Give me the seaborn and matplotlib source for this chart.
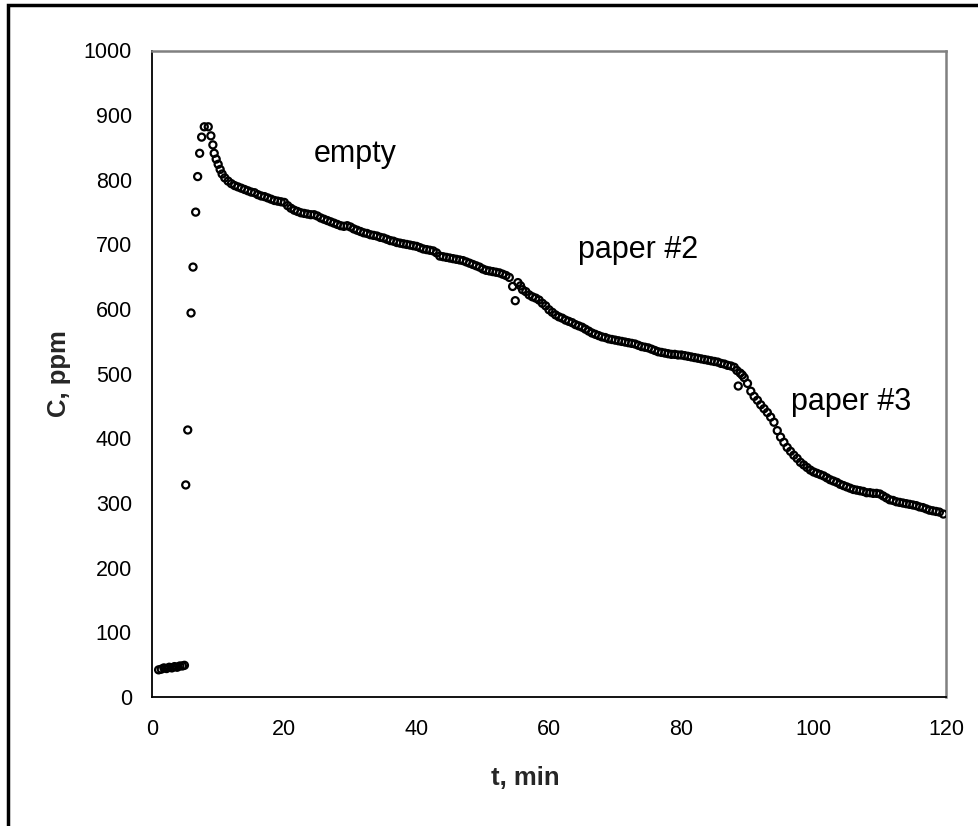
import matplotlib
matplotlib.use("Agg")
import matplotlib.pyplot as plt
from matplotlib.patches import Rectangle
import pandas as pd
import seaborn as sns

# Concentration readings over time (minutes, ppm)
t_min = [
    1.0, 1.4, 1.8, 2.2, 2.6, 3.0, 3.4, 3.8, 4.2, 4.6, 4.9,
    5.1, 5.4, 5.9, 6.2, 6.6, 6.9, 7.2, 7.5, 7.9, 8.5, 8.9, 9.2, 9.4,
    9.7, 10.0, 10.3, 10.6,
    11.0, 11.5, 12.0, 12.5, 13.0, 13.5, 14.0, 14.5, 15.0, 15.5,
    16.0, 16.5, 17.0, 17.5, 18.0, 18.5, 19.0, 19.5, 20.0, 20.5,
    21.0, 21.5, 22.0, 22.5, 23.0, 23.5, 24.0, 24.5, 25.0, 25.5,
    26.0, 26.5, 27.0, 27.5, 28.0, 28.5, 29.0, 29.5, 30.0, 30.5,
    31.0, 31.5, 32.0, 32.5, 33.0, 33.5, 34.0, 34.5, 35.0, 35.5,
    36.0, 36.5, 37.0, 37.5, 38.0, 38.5, 39.0, 39.5, 40.0, 40.5,
    41.0, 41.5, 42.0, 42.5, 43.0, 43.5, 44.0, 44.5, 45.0, 45.5,
    46.0, 46.5, 47.0, 47.5, 48.0, 48.5, 49.0, 49.5, 50.0, 50.5,
    51.0, 51.5, 52.0, 52.5, 53.0, 53.5, 54.0, 54.5, 54.9, 55.3,
    55.7, 56.0, 56.5, 57.0, 57.5, 58.0, 58.5, 59.0, 59.5, 60.0,
    60.5, 61.0, 61.5, 62.0, 62.5, 63.0, 63.5, 64.0, 64.5, 65.0,
    65.5, 66.0, 66.5, 67.0, 67.5, 68.0, 68.5, 69.0, 69.5, 70.0,
    70.5, 71.0, 71.5, 72.0, 72.5, 73.0, 73.5, 74.0, 74.5, 75.0,
    75.5, 76.0, 76.5, 77.0, 77.5, 78.0, 78.5, 79.0, 79.5, 80.0,
    80.5, 81.0, 81.5, 82.0, 82.5, 83.0, 83.5, 84.0, 84.5, 85.0,
    85.5, 86.0, 86.5, 87.0, 87.5, 88.0, 88.4, 88.6, 88.9, 89.2,
    89.5, 90.0, 90.5, 91.0, 91.5, 92.0, 92.5, 93.0, 93.5, 94.0,
    94.5, 95.0, 95.5, 96.0, 96.5, 97.0, 97.5, 98.0, 98.5, 99.0,
    99.5, 100.0, 100.5, 101.0, 101.5, 102.0, 102.5, 103.0, 103.5, 104.0,
    104.5, 105.0, 105.5, 106.0, 106.5, 107.0, 107.5, 108.0, 108.5, 109.0,
    109.5, 110.0, 110.5, 111.0, 111.5, 112.0, 112.5, 113.0, 113.5, 114.0,
    114.5, 115.0, 115.5, 116.0, 116.5, 117.0, 117.5, 118.0, 118.5, 119.0,
    119.6,
]
c_ppm = [
    42, 43, 45, 44, 46, 45, 47, 46, 48, 48, 49,
    328, 413, 594, 665, 750, 805, 841, 866, 882, 882, 868, 854, 841,
    832, 824, 816, 809,
    803, 798, 794, 791, 789, 787, 785, 783, 781, 780,
    777, 775, 774, 772, 770, 768, 767, 766, 765, 760,
    756, 753, 751, 749, 748, 747, 746, 746, 744, 741,
    739, 737, 735, 733, 731, 729, 728, 729, 727, 724,
    722, 720, 718, 717, 715, 714, 713, 711, 710, 708,
    706, 705, 703, 702, 701, 700, 699, 698, 697, 695,
    693, 692, 691, 690, 687, 682, 681, 680, 679, 678,
    677, 676, 675, 673, 671, 669, 667, 665, 662, 660,
    659, 658, 657, 656, 654, 652, 649, 635, 613, 641,
    636, 630, 627, 622, 619, 617, 614, 609, 605, 599,
    595, 591, 588, 586, 583, 581, 579, 576, 574, 572,
    569, 566, 563, 561, 559, 557, 556, 554, 553, 552,
    551, 550, 549, 548, 547, 546, 544, 542, 541, 540,
    538, 536, 534, 533, 532, 531, 530, 530, 529, 529,
    528, 527, 526, 525, 524, 523, 522, 521, 520, 519,
    518, 516, 515, 513, 512, 510, 505, 481, 501, 498,
    494, 485, 473, 465, 459, 452, 446, 440, 433, 425,
    412, 402, 394, 386, 380, 374, 369, 363, 359, 355,
    351, 348, 346, 344, 342, 339, 336, 334, 332, 329,
    327, 325, 323, 321, 320, 319, 318, 316, 316, 315,
    315, 314, 311, 308, 305, 304, 302, 301, 300, 299,
    298, 297, 296, 294, 293, 291, 289, 288, 287, 286,
    283,
]

# Stage annotations: text, time, concentration
stage_labels = ["empty", "paper #2", "paper #3"]
stage_t = [30.7, 73.5, 105.6]
stage_c = [827, 679, 444]

x_ticks = [0, 20, 40, 60, 80, 100, 120]
y_ticks = [0, 100, 200, 300, 400, 500, 600, 700, 800, 900, 1000]

sns.set_style("white")
plt.rcParams["font.family"] = ["Liberation Sans", "DejaVu Sans"]

df = pd.DataFrame({"t": t_min, "C": c_ppm})

fig = plt.figure(figsize=(9.79, 8.26), dpi=100)
ax = fig.add_axes([152 / 979, 1 - 697 / 826, 794 / 979, 646.5 / 826])

sns.scatterplot(data=df, x="t", y="C", ax=ax, marker="o", s=26,
                facecolors="none", edgecolor="black", linewidth=1.6,
                legend=False, zorder=3)

ax.set_xlim(0, 120)
ax.set_ylim(0, 1000)
ax.set_xticks(x_ticks)
ax.set_yticks(y_ticks)
ax.tick_params(axis="both", direction="out", length=4.5, width=1.0,
               color="black", labelsize=15.5, labelcolor="black")
ax.tick_params(axis="x", pad=11)
ax.tick_params(axis="y", pad=10)

for side in ("left", "bottom"):
    ax.spines[side].set_color("black")
    ax.spines[side].set_linewidth(1.3)
for side in ("top", "right"):
    ax.spines[side].set_color("#808080")
    ax.spines[side].set_linewidth(1.8)
    ax.spines[side].set_visible(True)

ax.set_xlabel("t, min", fontsize=18.5, fontweight="bold")
ax.set_ylabel("C, ppm", fontsize=18.5, fontweight="bold")
ax.xaxis.set_label_coords(0.47, -0.106)
ax.yaxis.set_label_coords(-0.102, 0.5)

for label, tx, cy in zip(stage_labels, stage_t, stage_c):
    ax.text(tx, cy, label, ha="center", va="baseline", fontsize=22,
            color="black")

# Outer chart frame
fig.patches.append(Rectangle((8 / 979, -0.2), 1.2, 1 - 5 / 826 + 0.2,
                             transform=fig.transFigure, fill=False,
                             edgecolor="black", linewidth=2.5, zorder=0))

fig.savefig("out.png", dpi=100)
